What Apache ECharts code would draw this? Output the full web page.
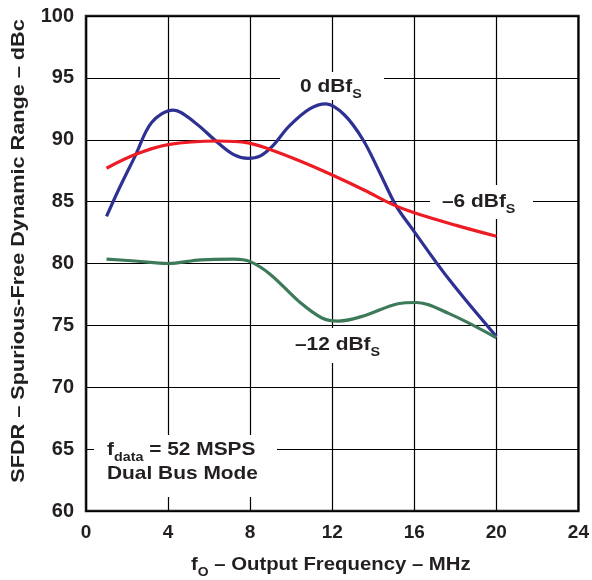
<!DOCTYPE html>
<html>
<head>
<meta charset="utf-8">
<script src="https://cdn.jsdelivr.net/npm/echarts@6/dist/echarts.min.js"></script>
<style>
html,body{margin:0;padding:0;background:#fff;}
#chart{width:592px;height:580px;}
</style>
</head>
<body>
<div id="chart"></div>
<script>
// Data (x: output frequency MHz, y: SFDR dBc)
var xTicks = [0, 4, 8, 12, 16, 20, 24];
var yTicks = [60, 65, 70, 75, 80, 85, 90, 95, 100];

var series0dBfs = [
  [1, 83.8], [1.6, 86.0], [2.4, 88.7], [3.2, 91.4], [4.25, 92.4], [5.3, 91.4],
  [6.4, 89.8], [7.2, 88.8], [7.9, 88.5], [8.5, 88.7], [9.1, 89.5], [9.9, 91.1],
  [10.9, 92.5], [11.7, 92.9], [12.6, 92.0], [13.5, 90.0], [14.3, 87.4],
  [15.1, 84.7], [15.9, 82.8], [17.7, 78.7], [20, 74.1]
];
var seriesMinus6dBfs = [
  [1, 87.7], [2.4, 88.8], [4, 89.6], [6.4, 89.9], [7.9, 89.75], [8.9, 89.25],
  [10.4, 88.3], [12, 87.15], [13.6, 85.9], [14.9, 84.8], [16, 84.1], [18, 83.1],
  [20, 82.2]
];
var seriesMinus12dBfs = [
  [1, 80.35], [2.4, 80.2], [4, 80.0], [5.6, 80.3], [7.2, 80.35], [8, 80.15],
  [9, 79.1], [10.4, 76.9], [11.5, 75.6], [12.3, 75.35], [13.6, 75.8],
  [15.2, 76.75], [16.1, 76.85], [17.7, 75.95], [20, 74.0]
];

var FONT = '"Liberation Sans", Arial, Helvetica, sans-serif';
var TXT = '#231f20';
var SX = 1.1;

function richText(parts, x, y, sx) {
  return {
    type: 'text', x: x, y: y, z: 5, scaleX: sx || SX,
    style: {
      text: parts, fill: TXT, align: 'left', verticalAlign: 'top',
      fontFamily: FONT, fontWeight: 'bold', fontSize: 19,
      rich: {
        m: {fontFamily: FONT, fontWeight: 'bold', fontSize: 19, lineHeight: 28, fill: TXT, verticalAlign: 'middle'},
        s: {fontFamily: FONT, fontWeight: 'bold', fontSize: 13, lineHeight: 13, fill: TXT, verticalAlign: 'bottom'}
      }
    }
  };
}
function whiteBox(x1, y1, x2, y2) {
  return {type: 'rect', z: 4, shape: {x: x1, y: y1, width: x2 - x1, height: y2 - y1}, style: {fill: '#fff'}};
}

var chart = echarts.init(document.getElementById('chart'), null, {renderer: 'canvas'});
var option = {
  backgroundColor: '#fff',
  animation: false,
  grid: {left: 86, right: 12, top: 16, bottom: 69, show: true, borderColor: '#231f20', borderWidth: 2.5, backgroundColor: 'transparent'},
  xAxis: {
    type: 'value', min: xTicks[0], max: xTicks[xTicks.length - 1], interval: 4,
    axisLine: {show: false}, axisTick: {show: false},
    splitLine: {show: true, lineStyle: {color: '#000', width: 1.2}},
    axisLabel: {margin: 12, color: TXT, fontFamily: FONT, fontWeight: 'bold', fontSize: 19}
  },
  yAxis: {
    type: 'value', min: yTicks[0], max: yTicks[yTicks.length - 1], interval: 5,
    axisLine: {show: false}, axisTick: {show: false},
    splitLine: {show: true, lineStyle: {color: '#000', width: 1.2}},
    axisLabel: {margin: 12, color: TXT, fontFamily: FONT, fontWeight: 'bold', fontSize: 20}
  },
  graphic: [
    whiteBox(280, 72, 384, 100),
    whiteBox(430, 185, 533, 219),
    whiteBox(288, 328, 392, 363),
    whiteBox(94, 435, 277, 497),
    richText('{m|0 dBf}{s|S}', 300, 73),
    richText('{m|–6 dBf}{s|S}', 442, 188),
    richText('{m|–12 dBf}{s|S}', 295, 331),
    richText('{m|f}{s|data}{m| = 52 MSPS}', 107, 436),
    {
      type: 'text', x: 107, y: 474, z: 5, scaleX: SX,
      style: {text: 'Dual Bus Mode', fill: TXT, align: 'left', verticalAlign: 'middle',
              fontFamily: FONT, fontWeight: 'bold', fontSize: 19}
    },
    richText('{m|f}{s|O}{m| – Output Frequency – MHz}', 191, 551, 1.07),
    {
      type: 'text', x: 19, y: 251, z: 5, rotation: Math.PI / 2, scaleX: 1.14,
      style: {text: 'SFDR – Spurious-Free Dynamic Range – dBc', fill: TXT, align: 'center', verticalAlign: 'middle',
              fontFamily: FONT, fontWeight: 'bold', fontSize: 19}
    }
  ],
  series: [
    {name: '0 dBfs', type: 'line', data: series0dBfs, smooth: 0.35, showSymbol: false, z: 10,
     lineStyle: {color: '#2e3192', width: 3.2}},
    {name: '-6 dBfs', type: 'line', data: seriesMinus6dBfs, smooth: 0.35, showSymbol: false, z: 10,
     lineStyle: {color: '#ed1c24', width: 3.2}},
    {name: '-12 dBfs', type: 'line', data: seriesMinus12dBfs, smooth: 0.35, showSymbol: false, z: 10,
     lineStyle: {color: '#3d7a5a', width: 3.2}}
  ]
};
chart.setOption(option);
</script>
</body>
</html>
